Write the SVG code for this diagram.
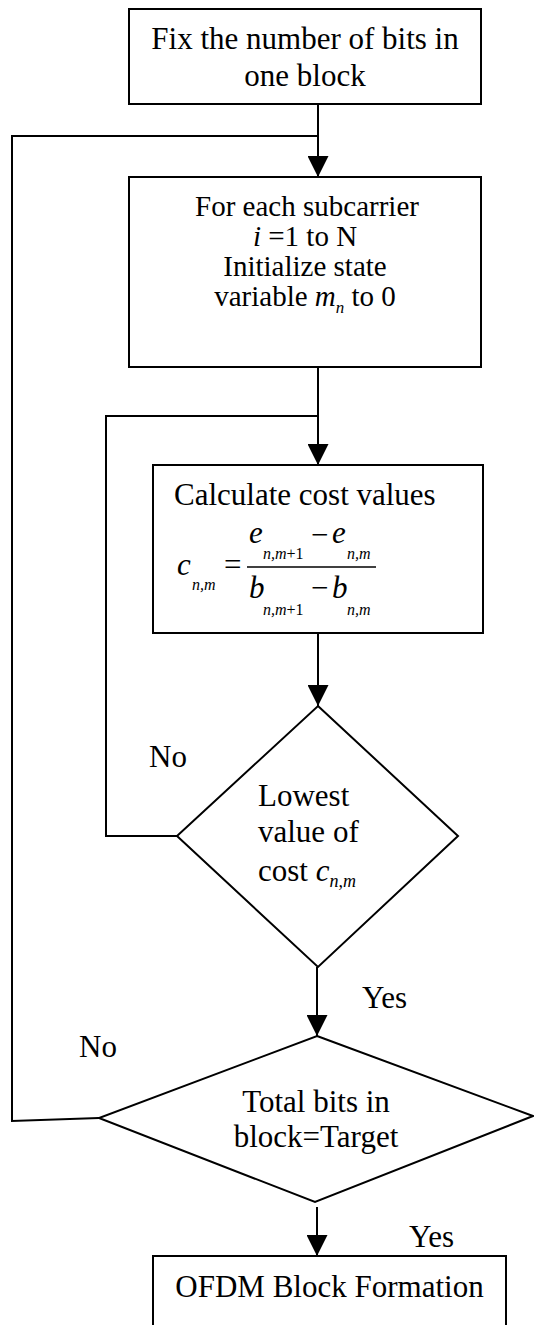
<svg xmlns="http://www.w3.org/2000/svg" width="534" height="1325" viewBox="0 0 534 1325">
<style>
.box{fill:#fff;stroke:#000;stroke-width:2}
.ln{fill:none;stroke:#000;stroke-width:2}
text{font-family:"Liberation Serif","Times New Roman",serif;font-size:31px;fill:#000}
.it{font-style:italic}
.sub{font-size:16px}
.mid{text-anchor:middle}
.b2{font-size:29px}
</style>
<defs>
<marker id="arr" markerWidth="21" markerHeight="21" refX="21" refY="10.5" orient="auto" markerUnits="userSpaceOnUse">
<path d="M0,0 L21,10.5 L0,21 Z" fill="#000"/>
</marker>
</defs>
<g id="connectors">
<path class="ln" d="M318,104 L318,177" marker-end="url(#arr)"/>
<path class="ln" d="M99,1118 L12,1121 L12,136 L318,136"/>
<path class="ln" d="M318,367 L318,465" marker-end="url(#arr)"/>
<path class="ln" d="M177,836 L106,836 L106,416 L318,416"/>
<path class="ln" d="M318,633 L318,706" marker-end="url(#arr)"/>
<path class="ln" d="M317,967 L317,1036" marker-end="url(#arr)"/>
<path class="ln" d="M317,1207 L317,1256" marker-end="url(#arr)"/>
</g>
<g id="box1">
<rect class="box" x="129" y="9" width="352" height="95"/>
<text class="mid" x="305" y="49">Fix the number of bits in</text>
<text class="mid" x="305" y="86">one block</text>
</g>
<g id="box2">
<rect class="box" x="129" y="177" width="352" height="190"/>
<text class="mid b2" x="307" y="216">For each subcarrier</text>
<text class="mid b2" x="305" y="246"><tspan class="it">i</tspan> =1  to N</text>
<text class="mid b2" x="305" y="276">Initialize state</text>
<text class="mid b2" x="305" y="306">variable <tspan class="it">m</tspan><tspan class="it" font-size="17" dy="7">n</tspan><tspan dy="-7"> to 0</tspan></text>
</g>
<g id="box3">
<rect class="box" x="153" y="465" width="330" height="168"/>
<text x="174" y="505">Calculate cost values</text>
<text class="it" x="177" y="575">c</text>
<text class="it sub" x="192" y="590">n,m</text>
<text x="224" y="575">=</text>
<line x1="247" y1="567" x2="376" y2="567" stroke="#000" stroke-width="1.3"/>
<text class="it" x="249" y="543">e</text>
<text class="sub" x="263" y="559"><tspan class="it">n,m</tspan>+1</text>
<text x="311" y="545">−</text>
<text class="it" x="332" y="543">e</text>
<text class="it sub" x="347" y="559">n,m</text>
<text class="it" x="249" y="598">b</text>
<text class="sub" x="263" y="615"><tspan class="it">n,m</tspan>+1</text>
<text x="311" y="598">−</text>
<text class="it" x="332" y="598">b</text>
<text class="it sub" x="347" y="615">n,m</text>
</g>
<g id="diamond1">
<polygon class="box" points="318,706 458,836 318,967 177,836"/>
<text x="258" y="806">Lowest</text>
<text x="258" y="842">value of</text>
<text x="258" y="881">cost <tspan class="it">c</tspan><tspan class="it" font-size="18" dy="6">n,m</tspan></text>
</g>
<g id="diamond2">
<polygon class="box" points="317,1036 533,1116 315,1202 99,1118"/>
<text class="mid" x="316" y="1112">Total bits in</text>
<text class="mid" x="316" y="1147">block=Target</text>
</g>
<g id="box4">
<rect class="box" x="153" y="1256" width="353" height="100"/>
<text class="mid" x="329.5" y="1297">OFDM Block Formation</text>
</g>
<g id="labels">
<text x="149" y="767">No</text>
<text x="362" y="1008">Yes</text>
<text x="79" y="1057">No</text>
<text x="409" y="1247">Yes</text>
</g>
</svg>
